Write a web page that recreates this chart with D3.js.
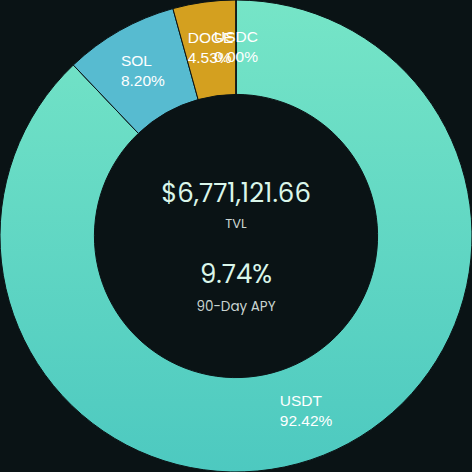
<!DOCTYPE html>
<html><head><meta charset="utf-8">
<script src="https://cdn.jsdelivr.net/npm/d3@7"></script>
<style>html,body{margin:0;padding:0;background:#0a1315;}svg{display:block;}</style>
</head><body>
<div id="chart"></div>
<script>
const assets = ["USDT", "SOL", "DOGE", "USDC"];
const shares = [92.42, 8.20, 4.53, 0.00];
const sliceColors = ["url(#usdtGrad)", "#57bbd0", "#d4a01f", "#72e2c6"];
const tvlText = "$6,771,121.66";
const apyText = "9.74%";

const W = 472, H = 472;
const cx = W / 2, cy = H / 2;
const outerR = 236, innerR = outerR * 0.6;

const svg = d3.select("#chart").append("svg").attr("width", W).attr("height", H);
svg.append("rect").attr("width", W).attr("height", H).attr("fill", "#0a1315");

const defs = svg.append("defs");
const grad = defs.append("linearGradient").attr("id", "usdtGrad")
  .attr("gradientUnits", "userSpaceOnUse").attr("x1", 0).attr("y1", -outerR).attr("x2", 0).attr("y2", outerR);
grad.append("stop").attr("offset", "0%").attr("stop-color", "#76e5c7");
grad.append("stop").attr("offset", "100%").attr("stop-color", "#4dc9c0");

const data = assets.map((a, i) => ({ name: a, value: shares[i], color: sliceColors[i] }));
const pie = d3.pie().value(d => d.value).sort(null);
const arcs = pie(data);
const arc = d3.arc().innerRadius(innerR).outerRadius(outerR);

const g = svg.append("g").attr("transform", `translate(${cx},${cy})`);
g.selectAll("path.slice").data(arcs).join("path").attr("class", "slice")
  .attr("d", arc).attr("fill", d => d.data.color)
  .attr("stroke", "#0a1315").attr("stroke-width", 1);

const lbl = g.selectAll("text.lbl").data(arcs).join("text").attr("class", "lbl")
  .attr("transform", d => `translate(${arc.centroid(d)})`)
  .attr("text-anchor", "start")
  .attr("font-family", "'Liberation Sans', Arial, sans-serif")
  .attr("font-size", 15.5)
  .attr("fill", "#ffffff");
lbl.append("tspan").attr("y", -5.5).text(d => d.data.name);
lbl.append("tspan").attr("y", 14.5).text(d => d.data.value.toFixed(2) + "%");
lbl.each(function () {
  const spans = d3.select(this).selectAll("tspan").nodes();
  const maxW = d3.max(spans, s => s.getComputedTextLength());
  spans.forEach(s => d3.select(s).attr("x", -maxW / 2));
});

const cf = "Poppins, Inter, 'Open Sans', sans-serif";
g.append("text").attr("text-anchor", "middle").attr("y", 201.7 - cy)
  .attr("font-family", cf).attr("font-size", 26).attr("fill", "#daf6ea").text(tvlText);
g.append("text").attr("text-anchor", "middle").attr("y", 227.7 - cy)
  .attr("font-family", cf).attr("font-size", 13).attr("fill", "#c9d3d0").text("TVL");
g.append("text").attr("text-anchor", "middle").attr("y", 283.3 - cy)
  .attr("font-family", cf).attr("font-size", 26).attr("fill", "#daf6ea").text(apyText);
g.append("text").attr("text-anchor", "middle").attr("y", 310.7 - cy)
  .attr("font-family", cf).attr("font-size", 13.5).attr("fill", "#c9d3d0").text("90-Day APY");
</script>
</body></html>
